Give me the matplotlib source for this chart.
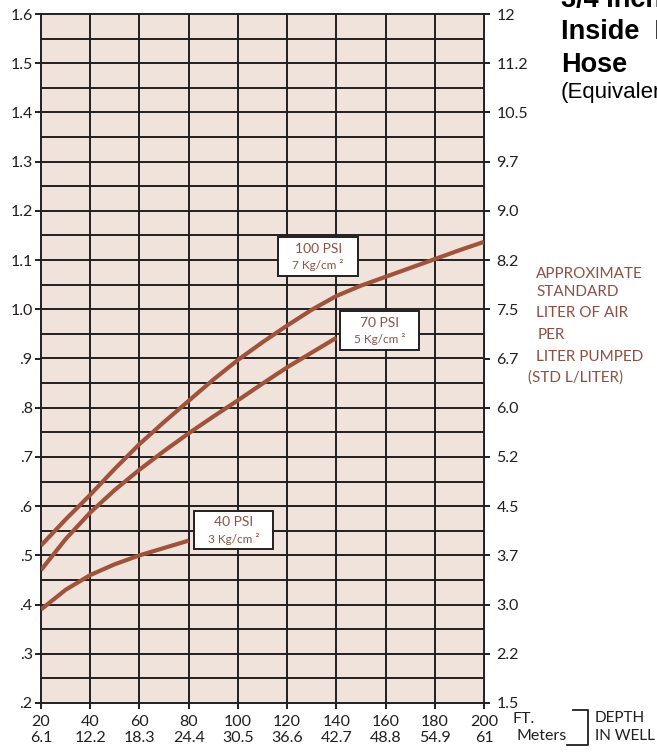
import matplotlib.pyplot as plt
from matplotlib.lines import Line2D
from matplotlib.patches import Rectangle

# depth in well (ft) and the matching meters
depth_ft = [20, 40, 60, 80, 100, 120, 140, 160, 180, 200]
depth_m = ['6.1', '12.2', '18.3', '24.4', '30.5', '36.6', '42.7', '48.8', '54.9', '61']

# ratio (every 10 ft)
ft_100 = [20, 30, 40, 50, 60, 70, 80, 90, 100, 110, 120, 130, 140, 150, 160, 170, 180, 190, 200]
psi_100 = [0.52, 0.573, 0.623, 0.676, 0.726, 0.771, 0.814, 0.857, 0.897, 0.933, 0.967, 0.999,
           1.027, 1.048, 1.066, 1.084, 1.102, 1.12, 1.137]
ft_70 = [20, 30, 40, 50, 60, 70, 80, 90, 100, 110, 120, 130, 140]
psi_70 = [0.47, 0.533, 0.587, 0.633, 0.674, 0.712, 0.748, 0.782, 0.815, 0.849, 0.882, 0.912, 0.942]
ft_40 = [20, 30, 40, 50, 60, 70, 80]
psi_40 = [0.39, 0.43, 0.46, 0.482, 0.50, 0.515, 0.53]

left_ticks = [0.2, 0.3, 0.4, 0.5, 0.6, 0.7, 0.8, 0.9, 1.0, 1.1, 1.2, 1.3, 1.4, 1.5, 1.6]
left_labels = ['.2', '.3', '.4', '.5', '.6', '.7', '.8', '.9', '1.0', '1.1', '1.2', '1.3', '1.4', '1.5', '1.6']
right_labels = ['1.5', '2.2', '3.0', '3.7', '4.5', '5.2', '6.0', '6.7', '7.5', '8.2', '9.0', '9.7',
                '10.5', '11.2', '12']

# curve labels: text, centre (ft, ratio)
box_text = [('100 PSI', '7 Kg/cm ²'), ('70 PSI', '5 Kg/cm ²'), ('40 PSI', '3 Kg/cm ²')]
box_pos = [(132.6, 1.107), (157.6, 0.957), (98.2, 0.552)]

W, H = 657, 753
curve_col = '#a0533a'
text_brown = '#8e5044'
ink = '#231f20'
font = 'Lato'

fig = plt.figure(figsize=(W / 100, H / 100), dpi=100)
ax = fig.add_axes([41 / W, 1 - 703 / H, (484 - 41) / W, (703 - 14) / H])
ax.set_facecolor('#f0e3dc')

ax.set_xlim(20, 200)
ax.set_ylim(0.2, 1.6)

# grid
for x in depth_ft[1:-1]:
    ax.axvline(x, color=ink, lw=1.4, zorder=1)
y = 0.25
while y < 1.6:
    ax.axhline(y, color=ink, lw=1.4, zorder=1)
    y += 0.05
for s in ax.spines.values():
    s.set_color(ink)
    s.set_linewidth(1.4)

ax.plot(ft_100, psi_100, color=curve_col, lw=3, solid_capstyle='butt', zorder=3)
ax.plot(ft_70, psi_70, color=curve_col, lw=3, solid_capstyle='butt', zorder=3)
ax.plot(ft_40, psi_40, color=curve_col, lw=3, solid_capstyle='butt', zorder=3)

bw, bh = 32.2, 0.078
for (t1, t2), (cx, cy) in zip(box_text, box_pos):
    ax.add_patch(Rectangle((cx - bw / 2, cy - bh / 2), bw, bh, facecolor='white',
                           edgecolor=ink, lw=1.4, zorder=4))
    ax.text(cx, cy + 0.016, t1, ha='center', va='center', fontsize=10, color=text_brown,
            family=font, zorder=5)
    ax.text(cx, cy - 0.018, t2, ha='center', va='center', fontsize=8.5, color=text_brown,
            family=font, zorder=5)

ax.set_xticks(depth_ft)
ax.set_xticklabels([f'{a}\n{b}' for a, b in zip(depth_ft, depth_m)], family=font,
                   fontsize=11.5, color=ink, linespacing=1.1)
ax.set_yticks(left_ticks)
ax.set_yticklabels(left_labels, family=font, fontsize=11.5, color=ink)
ax.tick_params(axis='both', direction='out', length=4, width=1.4, color=ink, pad=2)
ax.tick_params(axis='x', pad=5)

ax2 = ax.twinx()
ax2.set_ylim(0.2, 1.6)
ax2.set_yticks(left_ticks)
ax2.set_yticklabels(right_labels, family=font, fontsize=11.5, color=ink)
ax2.tick_params(axis='y', direction='out', length=4, width=1.4, color=ink, pad=5)
for s in ax2.spines.values():
    s.set_visible(False)


def fx(x):
    return x / W


def fy(y):
    return 1 - y / H


fig.text(fx(513), fy(723), 'FT.', family=font, fontsize=11.5, color=ink, va='baseline')
fig.text(fx(516), fy(740), 'Meters', family=font, fontsize=11.5, color=ink, va='baseline')
fig.add_artist(Line2D([fx(573), fx(588), fx(588), fx(567)], [fy(710), fy(710), fy(745), fy(745)],
                      color=ink, lw=1.3))
fig.text(fx(595), fy(722), 'DEPTH', family=font, fontsize=11, color=ink, va='baseline')
fig.text(fx(595), fy(740), 'IN WELL', family=font, fontsize=11, color=ink, va='baseline')

# right hand unit label
unit_lines = [('APPROXIMATE', 536, 278), ('STANDARD', 536, 296), ('LITER OF AIR', 536, 317),
              ('PER', 538, 339), ('LITER PUMPED', 536, 361), ('(STD L/LITER)', 528, 382)]
for txt, x, yb in unit_lines:
    fig.text(fx(x), fy(yb), txt, family=font, fontsize=11, color=text_brown, va='baseline')

# title, clipped by the page edge as in the original
fig.text(fx(561), fy(7), '3/4 Inch', family='Liberation Sans', fontweight='bold',
         fontsize=19.5, color='black', va='baseline')
fig.text(fx(561), fy(39), 'Inside  Diameter', family='Liberation Sans', fontweight='bold',
         fontsize=19.5, color='black', va='baseline')
fig.text(fx(561), fy(72), 'Hose', family='Liberation Sans', fontweight='bold',
         fontsize=19.5, color='black', va='baseline')
fig.text(fx(561), fy(98), '(Equivalent)', family='Liberation Sans',
         fontsize=16, color='black', va='baseline')

fig.savefig('out.png', dpi=100)
